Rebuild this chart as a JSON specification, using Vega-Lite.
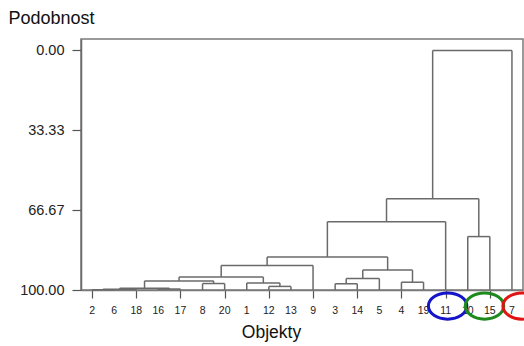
{
  "$schema": "https://vega.github.io/schema/vega-lite/v6.json",
  "width": 442,
  "height": 251,
  "autosize": {"type": "none"},
  "padding": {"left": 81, "top": 39, "right": 1, "bottom": 56},
  "background": "white",
  "config": {
    "view": {"stroke": "#7a7a7a", "strokeWidth": 1.5},
    "font": "Liberation Sans",
    "axisX": {
      "labels": false, "grid": false, "tickSize": 8, "tickColor": "#555", "tickWidth": 1.2,
      "domainColor": "#7a7a7a", "domainWidth": 1.5,
      "titleFontSize": 17.5, "titleFontWeight": "normal", "titleColor": "#111",
      "titleX": 190, "titleY": 47, "titleBaseline": "alphabetic", "titleAlign": "center"
    },
    "axisY": {
      "grid": false,
      "tickSize": 9, "tickColor": "#555", "tickWidth": 1.2, "labelPadding": 8,
      "labelFontSize": 14.5, "labelColor": "#222", "labelFlush": false,
      "domainColor": "#6a6a6a", "domainWidth": 1.5,
      "titleAngle": 0, "titleFontSize": 18, "titleFontWeight": "normal", "titleColor": "#111",
      "titleX": -73, "titleY": -16, "titleAlign": "left", "titleBaseline": "alphabetic"
    }
  },
  "datasets": {
    "merges": [
      {"lx": 0, "rx": 1, "h": 99.9, "lh": 100, "rh": 100},
      {"lx": 0.5, "rx": 2, "h": 99.7, "lh": 99.9, "rh": 100},
      {"lx": 3, "rx": 4, "h": 99.6, "lh": 100, "rh": 100},
      {"lx": 1.25, "rx": 3.5, "h": 99.3, "lh": 99.7, "rh": 99.6},
      {"lx": 5, "rx": 6, "h": 97.3, "lh": 100, "rh": 100},
      {"lx": 2.375, "rx": 5.5, "h": 96.2, "lh": 99.3, "rh": 97.3},
      {"lx": 8, "rx": 9, "h": 98.5, "lh": 100, "rh": 100},
      {"lx": 7, "rx": 8.5, "h": 97.1, "lh": 100, "rh": 98.5},
      {"lx": 3.9375, "rx": 7.75, "h": 94.6, "lh": 96.2, "rh": 97.1},
      {"lx": 5.84375, "rx": 10, "h": 89.8, "lh": 94.6, "rh": 100},
      {"lx": 11, "rx": 12, "h": 97.4, "lh": 100, "rh": 100},
      {"lx": 11.5, "rx": 13, "h": 95.2, "lh": 97.4, "rh": 100},
      {"lx": 14, "rx": 15, "h": 96.75, "lh": 100, "rh": 100},
      {"lx": 12.25, "rx": 14.5, "h": 91.7, "lh": 95.2, "rh": 96.75},
      {"lx": 7.921875, "rx": 13.375, "h": 86.2, "lh": 89.8, "rh": 91.7},
      {"lx": 10.6484, "rx": 16, "h": 71.5, "lh": 86.2, "rh": 100},
      {"lx": 17, "rx": 18, "h": 77.7, "lh": 100, "rh": 100},
      {"lx": 13.3242, "rx": 17.5, "h": 61.9, "lh": 71.5, "rh": 77.7},
      {"lx": 15.4121, "rx": 19, "h": 0, "lh": 61.9, "rh": 100}
    ],
    "leaves": [
      {"pos": 0, "leaf": "2"}, {"pos": 1, "leaf": "6"}, {"pos": 2, "leaf": "18"},
      {"pos": 3, "leaf": "16"}, {"pos": 4, "leaf": "17"}, {"pos": 5, "leaf": "8"},
      {"pos": 6, "leaf": "20"}, {"pos": 7, "leaf": "1"}, {"pos": 8, "leaf": "12"},
      {"pos": 9, "leaf": "13"}, {"pos": 10, "leaf": "9"}, {"pos": 11, "leaf": "3"},
      {"pos": 12, "leaf": "14"}, {"pos": 13, "leaf": "5"}, {"pos": 14, "leaf": "4"},
      {"pos": 15, "leaf": "19"}, {"pos": 16, "leaf": "11"}, {"pos": 17, "leaf": "10"},
      {"pos": 18, "leaf": "15"}, {"pos": 19, "leaf": "7"}
    ],
    "rings": [
      {"group": "11", "pos": 16.09, "level": 106.7},
      {"group": "10-15", "pos": 17.76, "level": 106.7},
      {"group": "7", "pos": 19.46, "level": 106.7}
    ]
  },
  "layer": [
    {
      "data": {"name": "merges"},
      "mark": {"type": "rule", "color": "#6a6a6a", "strokeWidth": 1.5},
      "encoding": {
        "x": {
          "field": "lx", "type": "quantitative", "title": "Objekty",
          "scale": {"domain": [-0.5, 19.5], "nice": false, "zero": false},
          "axis": {"values": [0,1,2,3,4,5,6,7,8,9,10,11,12,13,14,15,16,17,18,19], "labels": false}
        },
        "x2": {"field": "rx"},
        "y": {
          "field": "h", "type": "quantitative", "title": "Podobnost",
          "scale": {"domain": [-4.8, 100], "reverse": true, "nice": false, "zero": false},
          "axis": {"values": [0, 33.33, 66.67, 100], "format": ".2f"}
        }
      }
    },
    {
      "data": {"name": "merges"},
      "mark": {"type": "rule", "color": "#6a6a6a", "strokeWidth": 1.5},
      "encoding": {
        "x": {"field": "lx", "type": "quantitative", "title": "Objekty"},
        "y": {"field": "h", "type": "quantitative", "title": "Podobnost"},
        "y2": {"field": "lh"}
      }
    },
    {
      "data": {"name": "merges"},
      "mark": {"type": "rule", "color": "#6a6a6a", "strokeWidth": 1.5},
      "encoding": {
        "x": {"field": "rx", "type": "quantitative", "title": "Objekty"},
        "y": {"field": "h", "type": "quantitative", "title": "Podobnost"},
        "y2": {"field": "rh"}
      }
    },
    {
      "data": {"name": "leaves"},
      "mark": {"type": "text", "fontSize": 10.5, "color": "#222", "baseline": "middle", "align": "center", "dy": 21},
      "encoding": {
        "x": {"field": "pos", "type": "quantitative", "title": "Objekty"},
        "y": {"datum": 100, "type": "quantitative", "title": "Podobnost"},
        "text": {"field": "leaf"}
      }
    },
    {
      "data": {"name": "rings"},
      "mark": {
        "type": "point", "filled": false, "strokeWidth": 3, "size": 1480, "opacity": 1, "clip": false,
        "shape": "M -1 0 A 1 0.68 0 1 0 1 0 A 1 0.68 0 1 0 -1 0 Z"
      },
      "encoding": {
        "x": {"field": "pos", "type": "quantitative", "title": "Objekty"},
        "y": {"field": "level", "type": "quantitative", "title": "Podobnost"},
        "color": {
          "field": "group", "type": "nominal",
          "scale": {"domain": ["11", "10-15", "7"], "range": ["#1414c8", "#1e8a1e", "#e01414"]},
          "legend": null
        }
      }
    }
  ]
}
